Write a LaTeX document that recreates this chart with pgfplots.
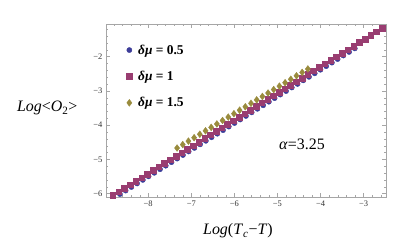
\documentclass[border=0pt]{standalone}
\usepackage{pgfplots}
\pgfplotsset{compat=1.18}
\usepackage{fontspec}
\setmainfont{Liberation Serif}
\definecolor{mblue}{rgb}{0.24,0.24,0.6}
\definecolor{mmag}{rgb}{0.6,0.24,0.442}
\definecolor{mgold}{rgb}{0.6,0.547,0.24}
\begin{document}
\begin{tikzpicture}[x=1bp,y=1bp]
\path[use as bounding box] (0,0) rectangle (415,250);
\begin{axis}[
  at={(106bp,53bp)}, anchor=south west,
  scale only axis, width=280bp, height=173bp,
  xmin=-8.98, xmax=-2.48, ymin=-6.1, ymax=-1.05,
  axis line style={gray!70},
  tick style={gray!70},
  tick align=inside,
  major tick length=4bp, minor tick length=2bp,
  xtick={-8,-7,-6,-5,-4,-3},
  xticklabels={−8,−7,−6,−5,−4,−3},
  ytick={-6,-5,-4,-3,-2},
  yticklabels={−6,−5,−4,−3,−2},
  minor xtick={-8.8,-8.6,...,-2.5},
  minor ytick={-6,-5.8,...,-1.1},
  xticklabel pos=left, yticklabel pos=left,
  ticklabel style={font=\fontsize{8.5}{9}\selectfont, text=black!80},
  xlabel={\textit{Log}(\textit{T}\textsubscript{\textit{c}}−\textit{T})},
  ylabel={\textit{Log}<\textit{O}\textsubscript{2}>},
  label style={font=\fontsize{16}{18}\selectfont},
  xlabel style={at={(axis description cs:0.471,-0.197)}, anchor=center},
  ylabel style={rotate=-90, at={(axis description cs:-0.21,0.514)}, anchor=center},
  legend style={draw=none, fill=none, at={(axis description cs:0.062,0.905)}, anchor=north west,
    font=\fontsize{13.5}{15}\selectfont\bfseries, row sep=11.5bp},
  legend cell align=left,
]
\addplot[only marks, mark=*, mark size=2.6bp, color=mblue] coordinates {
(-8.790,-6.120) (-8.657,-6.016) (-8.524,-5.913) (-8.391,-5.809) (-8.258,-5.705)
(-8.125,-5.601) (-7.992,-5.498) (-7.859,-5.394) (-7.726,-5.290) (-7.593,-5.186)
(-7.460,-5.083) (-7.327,-4.979) (-7.194,-4.875) (-7.061,-4.771) (-6.928,-4.668)
(-6.795,-4.564) (-6.662,-4.460) (-6.529,-4.356) (-6.396,-4.253) (-6.263,-4.149)
(-6.130,-4.045) (-5.997,-3.941) (-5.864,-3.838) (-5.731,-3.734) (-5.598,-3.630)
(-5.465,-3.526) (-5.332,-3.423) (-5.199,-3.319) (-5.066,-3.215) (-4.933,-3.111)
(-4.800,-3.008) (-4.667,-2.904) (-4.534,-2.800) (-4.401,-2.696) (-4.268,-2.593)
(-4.135,-2.489) (-4.002,-2.385) (-3.869,-2.281) (-3.736,-2.178) (-3.603,-2.074)
(-3.470,-1.970) (-3.337,-1.866) (-3.204,-1.763)
};
\addlegendentry{\hspace{4bp}\textit{δμ} = 0.5}
\addplot[only marks, mark=square*, mark size=2.8bp, color=mmag] coordinates {
(-8.820,-6.050) (-8.687,-5.946) (-8.554,-5.843) (-8.421,-5.739) (-8.288,-5.635)
(-8.155,-5.531) (-8.022,-5.428) (-7.889,-5.324) (-7.756,-5.220) (-7.623,-5.116)
(-7.490,-5.013) (-7.357,-4.909) (-7.224,-4.805) (-7.091,-4.701) (-6.958,-4.598)
(-6.825,-4.494) (-6.692,-4.390) (-6.559,-4.286) (-6.426,-4.183) (-6.293,-4.079)
(-6.160,-3.975) (-6.027,-3.871) (-5.894,-3.768) (-5.761,-3.664) (-5.628,-3.560)
(-5.495,-3.456) (-5.362,-3.353) (-5.229,-3.249) (-5.096,-3.145) (-4.963,-3.041)
(-4.830,-2.938) (-4.697,-2.834) (-4.564,-2.730) (-4.431,-2.626) (-4.298,-2.523)
(-4.165,-2.419) (-4.032,-2.315) (-3.899,-2.211) (-3.766,-2.108) (-3.633,-2.004)
(-3.500,-1.900) (-3.367,-1.796) (-3.234,-1.693) (-3.101,-1.589) (-2.968,-1.485)
(-2.835,-1.381) (-2.702,-1.278) (-2.569,-1.174)
};
\addlegendentry{\hspace{4bp}\textit{δμ} = 1}
\addplot[only marks, mark=diamond*, mark size=3.4bp, color=mgold] coordinates {
(-7.330,-4.670) (-7.198,-4.570) (-7.066,-4.469) (-6.934,-4.369) (-6.802,-4.269)
(-6.670,-4.168) (-6.538,-4.068) (-6.406,-3.968) (-6.274,-3.867) (-6.142,-3.767)
(-6.010,-3.667) (-5.878,-3.566) (-5.746,-3.466) (-5.614,-3.366) (-5.482,-3.265)
(-5.350,-3.165) (-5.218,-3.065) (-5.086,-2.964) (-4.954,-2.864) (-4.822,-2.764)
(-4.690,-2.663) (-4.558,-2.563) (-4.426,-2.463) (-4.294,-2.362)
};
\addlegendentry{\hspace{4bp}\textit{δμ} = 1.5}
\node[font=\fontsize{16}{18}\selectfont] at (axis description cs:0.70,0.306) {\textit{α}=3.25};
\end{axis}
\end{tikzpicture}
\end{document}
